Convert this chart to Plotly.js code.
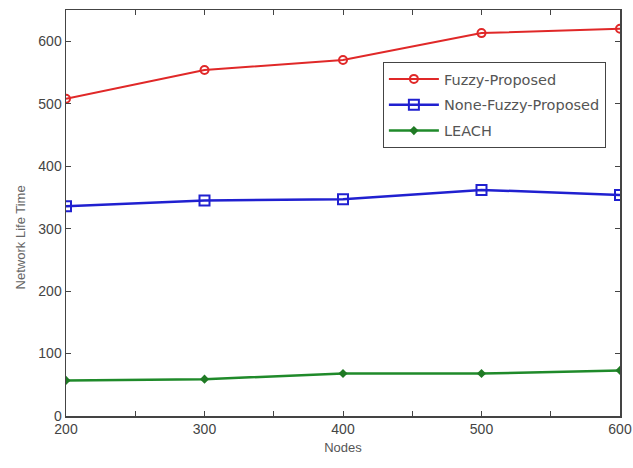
<!DOCTYPE html>
<html>
<head>
<meta charset="utf-8">
<script src="https://cdn.plot.ly/plotly-3.0.1.min.js"></script>
<style>html,body{margin:0;padding:0;background:#fff;}#chart{width:633px;height:468px;}</style>
</head>
<body>
<div id="chart"></div>
<script>
const nodes = [200, 300, 400, 500, 600];
const fuzzyProposed = [508, 554, 570, 613, 620];
const noneFuzzyProposed = [336, 345, 347, 362, 354];
const leach = [57, 59, 68, 68, 73];
const seriesNames = ["Fuzzy-Proposed", "None-Fuzzy-Proposed", "LEACH"];
const xTicks = [200, 300, 400, 500, 600];
const yTicks = [0, 100, 200, 300, 400, 500, 600];

const traces = [
  {x: nodes, y: fuzzyProposed, name: seriesNames[0], mode: "lines+markers", legendgroup: "a",
   line: {color: "#e02828", width: 2}, marker: {symbol: "circle-open", size: 8, color: "#e02828", line: {width: 2}}},
  {x: nodes, y: noneFuzzyProposed, name: seriesNames[1], mode: "lines+markers", legendgroup: "b",
   line: {color: "#2020d0", width: 2.5}, marker: {symbol: "square-open", size: 10, color: "#2020d0", line: {width: 2}}},
  {x: nodes, y: leach, name: seriesNames[2], mode: "lines+markers", legendgroup: "c",
   line: {color: "#1f8a2a", width: 2.5}, marker: {symbol: "diamond", size: 7, color: "#1f7a24"}}
];

const axFont = {family: "Liberation Sans, Arial, sans-serif", size: 14, color: "#444"};
const layout = {
  width: 633, height: 468,
  margin: {l: 66, r: 13, t: 10, b: 52},
  paper_bgcolor: "#fff", plot_bgcolor: "#fff",
  showlegend: true,
  xaxis: {
    range: [200, 600], tickvals: xTicks, ticks: "inside", ticklen: 5,
    tickcolor: "#444", showline: true, linecolor: "#444", linewidth: 1.5, mirror: "ticks",
    showgrid: false, zeroline: false, tickfont: axFont,
    minor: {dtick: 50, tick0: 200, ticks: "inside", ticklen: 5, tickcolor: "#444"},
    title: {text: "Nodes", font: {family: "Liberation Sans, Arial, sans-serif", size: 13, color: "#555"}, standoff: 6}
  },
  yaxis: {
    range: [0, 650], tickvals: yTicks, ticks: "inside", ticklen: 5,
    tickcolor: "#444", showline: true, linecolor: "#444", linewidth: 1.5, mirror: "ticks",
    showgrid: false, zeroline: false, tickfont: axFont
  },
  annotations: [{
    text: "Network Life Time", textangle: -90, showarrow: false,
    xref: "paper", yref: "paper", x: -0.083, y: 0.44, xanchor: "center", yanchor: "middle",
    font: {family: "Liberation Sans, Arial, sans-serif", size: 13, color: "#666"}
  }],
  legend: {
    x: 0.572, y: 0.872, xanchor: "left", yanchor: "top",
    bgcolor: "#fff", bordercolor: "#444", borderwidth: 1,
    font: {family: "DejaVu Sans, sans-serif", size: 14.5, color: "#555"},
    traceorder: "grouped", tracegroupgap: 4, itemwidth: 50
  }
};

Plotly.newPlot("chart", traces, layout, {displayModeBar: false, staticPlot: true});
</script>
</body>
</html>
